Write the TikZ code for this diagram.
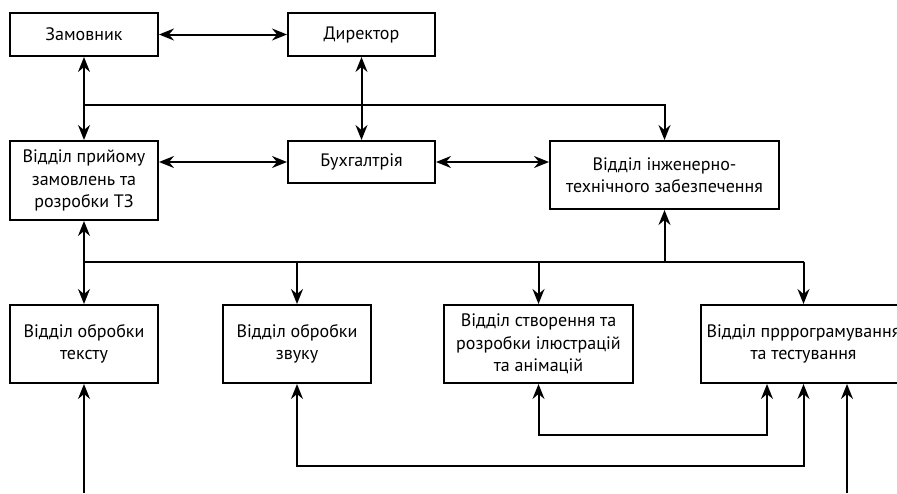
\documentclass[tikz,border=0pt]{standalone}
\usepackage{fontspec}
\setmainfont{PT Sans}
\usetikzlibrary{arrows.meta}

\begin{document}
\begin{tikzpicture}[x=1pt,y=-1pt,line width=2pt,
  >={Stealth[length=15pt,width=12pt,inset=5pt]},
  box/.style={draw,rectangle,align=center,inner sep=0pt,
    font=\fontsize{18}{22.5}\selectfont}]
  \useasboundingbox (0,0) rectangle (897,493);

  % top row
  \node[box,minimum width=148pt,minimum height=43pt] (zam) at (84,34.5) {Замовник};
  \node[box,minimum width=147pt,minimum height=43pt] (dir) at (361.5,34.5) {Директор};

  % middle row
  \node[box,minimum width=148pt,minimum height=79pt] (priy) at (84,180.5) {Відділ прийому\\замовлень та\\розробки ТЗ};
  \node[box,minimum width=147pt,minimum height=42pt] (buh) at (361.5,162) {Бухгалтрія};
  \node[box,minimum width=229pt,minimum height=68pt] (inzh) at (664.5,175) {Відділ інженерно-\\технічного забезпечення};

  % bottom row
  \node[box,minimum width=148pt,minimum height=78pt] (tekst) at (84,344) {Відділ обробки\\тексту};
  \node[box,minimum width=148pt,minimum height=78pt] (zvuk) at (297,344) {Відділ обробки\\звуку};
  \node[box,minimum width=189pt,minimum height=78pt] (stvor) at (538.5,344) {Відділ створення та\\розробки ілюстрацій\\та анімацій};
  \node[box,minimum width=205pt,minimum height=78pt] (prog) at (803.5,344) {Відділ прррограмування\\та тестування};

  \coordinate (top bus) at (84,105);
  \coordinate (mid bus) at (84,262);
  \coordinate (in tekst) at (84,493);
  \coordinate (in prog) at (847,493);
  \coordinate (loop zvuk) at (803.5,466);
  \coordinate (loop stvor) at (767,435);

  \draw[<->] (zam) -- (dir);
  \draw[<->] (zam) -- (priy);
  \draw[<->] (dir) -- (buh);
  \draw[->] (top bus) -| (inzh);
  \draw[<->] (priy.east |- buh) -- (buh);
  \draw[<->] (buh) -- (buh -| inzh.west);

  % distribution bus
  \draw (mid bus) -- (mid bus -| prog.north);
  \draw[->] (mid bus) -- (priy);
  \draw[->] (mid bus -| inzh.south) -- (inzh);
  \draw[->] (mid bus) -- (tekst);
  \draw[->] (mid bus -| zvuk.north) -- (zvuk);
  \draw[->] (mid bus -| stvor.north) -- (stvor);
  \draw[->] (mid bus -| prog.north) -- (prog);

  % feedback
  \draw[->] (in tekst) -- (tekst);
  \draw[->] (in prog) -- (in prog |- prog.south);
  \draw[<->] (zvuk) |- (loop zvuk) -- (prog);
  \draw[<->] (stvor) |- (loop stvor) -- (loop stvor |- prog.south);
\end{tikzpicture}
\end{document}
